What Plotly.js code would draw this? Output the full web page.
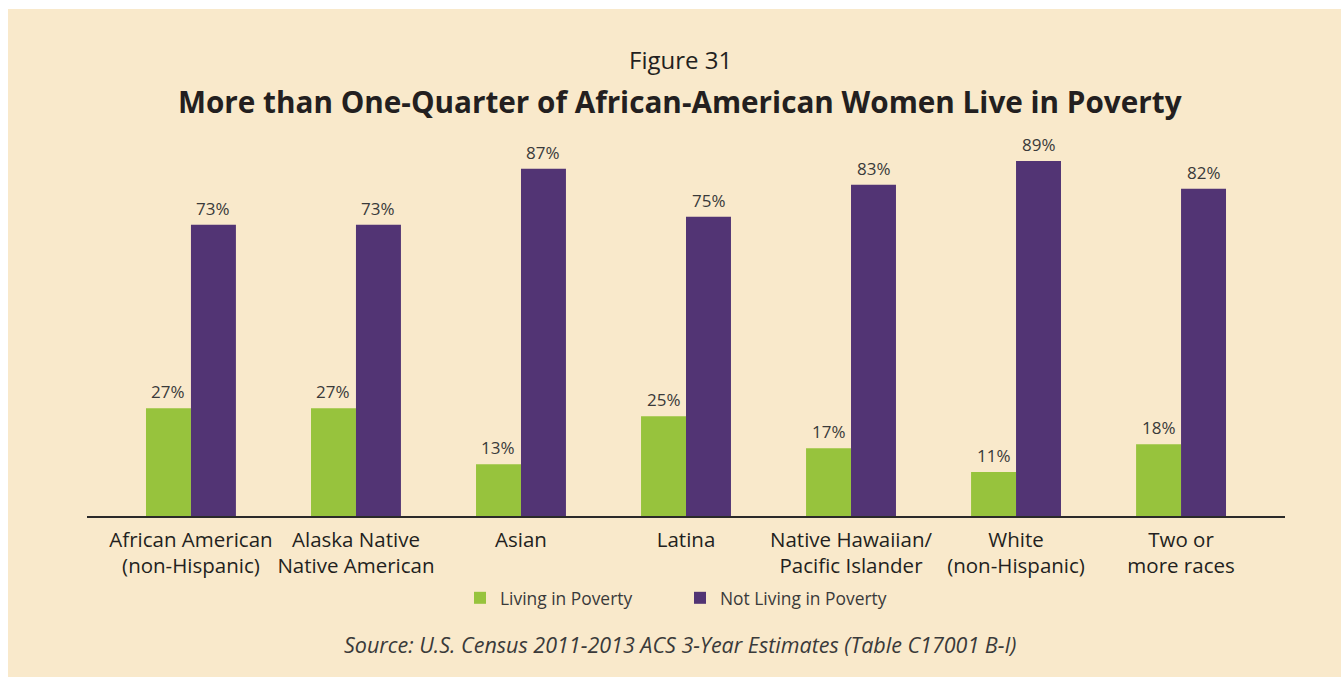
<!DOCTYPE html>
<html>
<head>
<meta charset="utf-8">
<script src="https://cdn.plot.ly/plotly-3.0.1.min.js"></script>
<style>
  html, body { margin: 0; padding: 0; background: #ffffff; width: 1341px; height: 677px; overflow: hidden; }
  #chart { position: absolute; left: 8px; top: 9px; width: 1333px; height: 668px; }
</style>
</head>
<body>
<div id="chart"></div>
<script>
const categories = ["African American (non-Hispanic)", "Alaska Native Native American", "Asian", "Latina",
  "Native Hawaiian/ Pacific Islander", "White (non-Hispanic)", "Two or more races"];
const tickLabels = ["African American<br>(non-Hispanic)", "Alaska Native<br>Native American", "Asian", "Latina",
  "Native Hawaiian/<br>Pacific Islander", "White<br>(non-Hispanic)", "Two or<br>more races"];
const livingInPoverty = [27, 27, 13, 25, 17, 11, 18];
const notLivingInPoverty = [73, 73, 87, 75, 83, 89, 82];
const seriesNames = ["Living in Poverty", "Not Living in Poverty"];

const GREEN = "#97c33d";
const PURPLE = "#523474";
const BG = "#f9e9cb";
const TEXT = "#3a3a3a";
const FONT = "'Open Sans', Lato, sans-serif";

const traces = [
  { type: "bar", name: seriesNames[0], x: categories, y: livingInPoverty, marker: { color: GREEN }, hoverinfo: "skip" },
  { type: "bar", name: seriesNames[1], x: categories, y: notLivingInPoverty, marker: { color: PURPLE }, hoverinfo: "skip" }
];

const annotations = [];
[livingInPoverty, notLivingInPoverty].forEach((vals, s) => {
  vals.forEach((v, i) => {
    annotations.push({
      x: categories[i], y: v, xref: "x", yref: "y",
      text: v + "%", showarrow: false, yanchor: "bottom",
      xshift: s === 0 ? -22.5 : 22.5, yshift: 3,
      font: { family: FONT, size: 17, color: TEXT }
    });
  });
});

annotations.push({
  xref: "paper", yref: "paper", x: 0.495, y: 1.1429, yanchor: "middle", showarrow: false,
  text: "Figure 31", font: { family: FONT, size: 24, color: "#231f20" }
});
annotations.push({
  xref: "paper", yref: "paper", x: 0.495, y: 1.0376, yanchor: "middle", showarrow: false,
  text: "<b>More than One-Quarter of African-American Women Live in Poverty</b>",
  font: { family: FONT, size: 29.7, color: "#231f20" }
});
annotations.push({
  xref: "paper", yref: "paper", x: 0.495, y: -0.3233, yanchor: "middle", showarrow: false,
  text: "<i>Source: U.S. Census 2011-2013 ACS 3-Year Estimates (Table C17001 B-I)</i>",
  font: { family: FONT, size: 21.5, color: TEXT }
});

const layout = {
  width: 1333, height: 668,
  paper_bgcolor: BG, plot_bgcolor: BG,
  margin: { l: 79, r: 56, t: 108, b: 161, pad: 0 },
  barmode: "group", bargap: 0.455, bargroupgap: 0,
  showlegend: true,
  legend: {
    orientation: "h", x: 0.495, xanchor: "center", y: -0.2055, yanchor: "middle",
    font: { family: FONT, size: 17.4, color: TEXT }, bgcolor: "rgba(0,0,0,0)",
    entrywidth: 175, entrywidthmode: "pixels", traceorder: "normal"
  },
  xaxis: {
    type: "category", range: [-0.63, 6.63],
    tickvals: categories, ticktext: tickLabels,
    showline: true, linecolor: "#2b2a29", linewidth: 2,
    ticks: "", showgrid: false, zeroline: false, ticklabelstandoff: 4,
    tickfont: { family: FONT, size: 20.5, color: "#231f20" },
    fixedrange: true
  },
  yaxis: {
    range: [0, 100], visible: false, showgrid: false, zeroline: false, fixedrange: true
  },
  annotations: annotations
};

Plotly.newPlot("chart", traces, layout, { displayModeBar: false, staticPlot: true });
</script>
</body>
</html>
